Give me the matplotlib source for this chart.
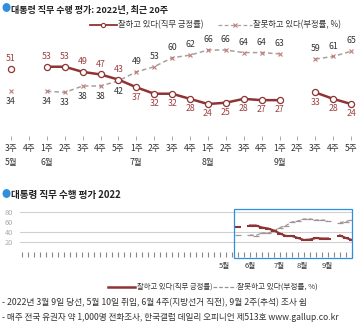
import numpy as np
import matplotlib
matplotlib.use("Agg")
import matplotlib.pyplot as plt
import matplotlib.transforms as mtransforms
from matplotlib.patches import Rectangle
from matplotlib.lines import Line2D

plt.rcParams['font.family'] = ['Noto Sans CJK KR', 'DejaVu Sans']

# ---- data ----
weeks = ["3주", "4주", "1주", "2주", "3주", "4주", "5주", "1주", "2주", "3주",
         "4주", "1주", "2주", "3주", "4주", "1주", "2주", "3주", "4주", "5주"]
months = {0: "5월", 2: "6월", 7: "7월", 11: "8월", 15: "9월"}
approve = [51, np.nan, 53, 53, 49, 47, 43, 37, 32, 32,
           28, 24, 25, 28, 27, 27, np.nan, 33, 28, 24]
disapprove = [34, np.nan, 34, 33, 38, 38, 42, 49, 53, 60,
              62, 66, 66, 64, 64, 63, np.nan, 59, 61, 65]
mini_months = ["5월", "6월", "7월", "8월", "9월"]
mini_month_pos = [-2.2, 2, 6.8, 10.7, 14.8]
mini_yticks = [20, 40, 60, 80]
mini_grid = [20, 40, 80]

title1 = "대통령 직무 수행 평가: 2022년, 최근 20주"
title2 = "대통령 직무 수행 평가 2022"
lab_ap = "잘하고 있다(직무 긍정률)"
lab_dis = "잘못하고 있다(부정률, %)"
note1 = "- 2022년 3월 9일 당선, 5월 10일 취임, 6월 4주(지방선거 직전), 9월 2주(추석) 조사 쉼"
note2 = "- 매주 전국 유권자 약 1,000명 전화조사, 한국갤럽 데일리 오피니언 제513호 www.gallup.co.kr"

RED = "#8e3434"
REDL = "#9c4040"
XCOL = "#c27a7a"
DASH = "#a8a0a0"
BLUE = "#2f8fdc"
TXT = "#333333"

W, H = 360, 331
fig = plt.figure(figsize=(W / 100, H / 100), dpi=100)
fig.patch.set_facecolor("white")

def fx(px):
    return px / W

def fy(py):
    return 1 - py / H

# ---- titles ----
fig.text(fx(2), fy(9), "●", color=BLUE, fontsize=6.5, va="center", ha="left")
fig.text(fx(11), fy(9), title1, color="#222222", fontsize=6.5, va="center", ha="left",
         fontweight="bold")
fig.text(fx(2), fy(195), "●", color=BLUE, fontsize=6.5, va="center", ha="left")
fig.text(fx(11), fy(195), title2, color="#222222", fontsize=6.9, va="center", ha="left",
         fontweight="bold")

# ---- top legend ----
fig.add_artist(Line2D([fx(90), fx(117)], [fy(25), fy(25)], color=RED, lw=1.3,
                      transform=fig.transFigure))
fig.add_artist(Line2D([fx(103.5)], [fy(25)], color=RED, lw=0, marker="o", ms=3,
                      mfc="white", mec=RED, mew=0.8, transform=fig.transFigure))
fig.text(fx(118), fy(25), lab_ap, color=TXT, fontsize=6.0, va="center", ha="left")
fig.add_artist(Line2D([fx(218), fx(252)], [fy(25), fy(25)], color=DASH, lw=0.9,
                      ls=(0, (3, 2)), transform=fig.transFigure))
fig.add_artist(Line2D([fx(235)], [fy(25)], color=XCOL, lw=0, marker="x", ms=3,
                      mew=0.8, transform=fig.transFigure))
fig.text(fx(253), fy(25), lab_dis, color=TXT, fontsize=6.0, va="center", ha="left")

# ---- top chart ----
ax = fig.add_axes([0, fy(136), 1, 96 / H])
x = np.arange(len(weeks))
ax.plot(x, disapprove, color=DASH, lw=1.1, ls=(0, (3, 2)), zorder=2)
ax.plot(x, disapprove, color=XCOL, lw=0, marker="x", ms=3.2, mew=0.8, zorder=3)
ax.plot(x, approve, color=RED, lw=1.8, zorder=4)
ax.plot(x, approve, color=RED, lw=0, marker="o", ms=4.4, mfc="white", mec=RED,
        mew=0.9, zorder=5)

for i, (a, d) in enumerate(zip(approve, disapprove)):
    if not np.isnan(a):
        off = 7.5 if i <= 6 else -7.0
        ax.annotate(f"{int(a)}", (i, a), xytext=(0, off), textcoords="offset points",
                    ha="center", va="center", fontsize=6.3, color=REDL)
    if not np.isnan(d):
        off = -7.5 if i <= 6 else 7.5
        ax.annotate(f"{int(d)}", (i, d), xytext=(0, off), textcoords="offset points",
                    ha="center", va="center", fontsize=6.3, color=TXT)

ax.set_xlim(-11 / 17.9, 349 / 17.9)
ax.set_ylim(-0.9, 73.8)
for s in ax.spines.values():
    s.set_visible(False)
ax.set_yticks([])
ax.set_xticks(x)
ax.set_xticklabels([w + ("\n" + months[i] if i in months else "\n") for i, w in enumerate(weeks)],
                   linespacing=1.6)
ax.tick_params(axis="x", length=3, width=0.7, color="#aaaaaa", labelsize=6.2,
               labelcolor=TXT, pad=3)
ax.patch.set_alpha(0)

# ---- mini chart ----
ax2 = fig.add_axes([fx(20), fy(252), 332 / W, 47 / H])
for g in mini_grid:
    ax2.axhline(g, color="#d0d0d0", lw=0.8, zorder=1)
ax2.plot(x, disapprove, color="#a09595", lw=0.9, ls=(0, (3, 2)), zorder=2)
ax2.plot(x, disapprove, color="#a09595", lw=0, marker="_", ms=4, mew=0.9, zorder=2)
ax2.plot(x, approve, color=RED, lw=1.5, zorder=3)
ax2.plot(x, approve, color=RED, lw=0, marker="_", ms=5, mew=1.5, zorder=3)
ax2.set_xlim(-36.33, 19)
ax2.set_ylim(0, 94)
for s in ax2.spines.values():
    s.set_visible(False)
ax2.set_yticks(mini_yticks)
ax2.set_yticklabels([str(v) for v in mini_yticks])
ax2.tick_params(axis="y", length=0, pad=5, labelsize=5.3, labelcolor="#aaaaaa")
ax2.set_xticks(np.arange(-36, 20, 1))
ax2.set_xticklabels([])
ax2.tick_params(axis="x", which="major", direction="out", length=3.5, width=0.8,
                color="#888888", bottom=True)
trans = mtransforms.blended_transform_factory(ax2.transData, fig.transFigure)
for pos, m in zip(mini_month_pos, mini_months):
    ax2.text(pos, fy(266), m, transform=trans, ha="center", va="center",
             fontsize=5.5, color=TXT)
ax2.patch.set_alpha(0)

fig.add_artist(Rectangle((fx(234), fy(258)), 118 / W, 49 / H, fill=False,
                         ec=BLUE, lw=0.9, transform=fig.transFigure))

# ---- bottom legend ----
fig.add_artist(Line2D([fx(108), fx(135)], [fy(287), fy(287)], color=RED, lw=1.8,
                      transform=fig.transFigure))
fig.text(fx(137), fy(287), lab_ap, color=TXT, fontsize=5.3, va="center", ha="left")
fig.add_artist(Line2D([fx(213), fx(236)], [fy(287), fy(287)], color="#9a9090", lw=0.9,
                      ls=(0, (3, 1.5)), transform=fig.transFigure))
fig.text(fx(237), fy(287), lab_dis, color=TXT, fontsize=5.5, va="center", ha="left")

# ---- notes ----
fig.text(fx(2), fy(303), note1, color=TXT, fontsize=6.3, va="center", ha="left")
fig.text(fx(2), fy(318), note2, color=TXT, fontsize=6.2, va="center", ha="left")

fig.savefig("out.png", dpi=100, facecolor="white")
